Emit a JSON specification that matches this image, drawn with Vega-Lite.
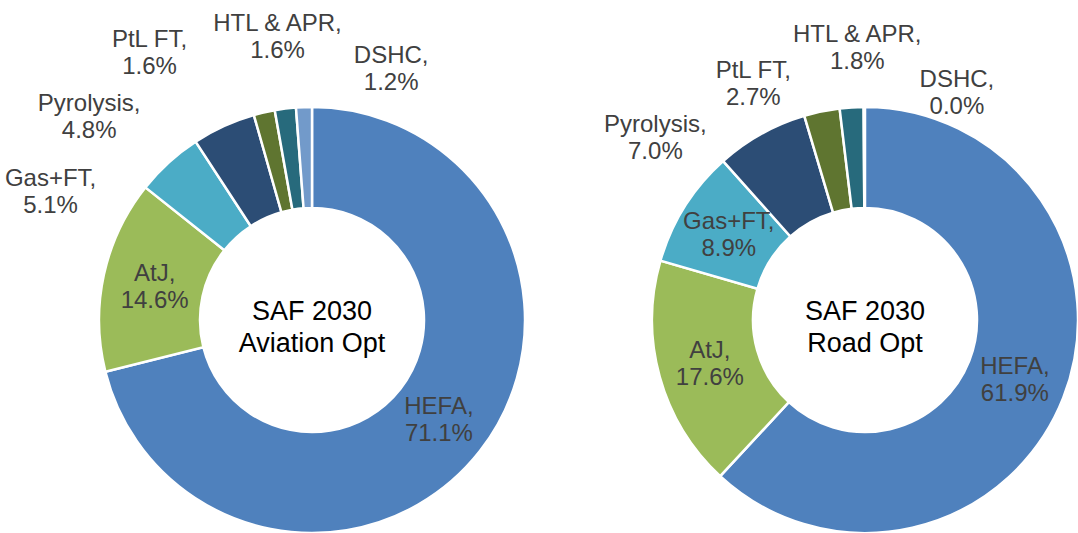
{
  "$schema": "https://vega.github.io/schema/vega-lite/v6.json",
  "width": 1078,
  "height": 533,
  "autosize": {"type": "none"},
  "padding": 0,
  "background": "white",
  "config": {"view": {"stroke": null}},
  "data": {
    "values": [
      {"chart": "Aviation Opt", "source": "HEFA", "share": 71.1},
      {"chart": "Aviation Opt", "source": "AtJ", "share": 14.6},
      {"chart": "Aviation Opt", "source": "Gas+FT", "share": 5.1},
      {"chart": "Aviation Opt", "source": "Pyrolysis", "share": 4.8},
      {"chart": "Aviation Opt", "source": "PtL FT", "share": 1.6},
      {"chart": "Aviation Opt", "source": "HTL & APR", "share": 1.6},
      {"chart": "Aviation Opt", "source": "DSHC", "share": 1.2},
      {"chart": "Road Opt", "source": "HEFA", "share": 61.9},
      {"chart": "Road Opt", "source": "AtJ", "share": 17.6},
      {"chart": "Road Opt", "source": "Gas+FT", "share": 8.9},
      {"chart": "Road Opt", "source": "Pyrolysis", "share": 7.0},
      {"chart": "Road Opt", "source": "PtL FT", "share": 2.7},
      {"chart": "Road Opt", "source": "HTL & APR", "share": 1.8},
      {"chart": "Road Opt", "source": "DSHC", "share": 0.0}
    ]
  },
  "transform": [
    {"stack": "share", "groupby": ["chart"], "sort": [{"field": "share", "order": "descending"}], "as": ["s0", "s1"]},
    {"calculate": "(datum.s0 + datum.s1) / 2", "as": "mid"},
    {"calculate": "datum.source + ',|' + format(datum.share, '.1f') + '%'", "as": "label"}
  ],
  "encoding": {
    "x": {"field": "chart", "type": "nominal", "scale": {"type": "point", "padding": 0.4747, "align": 0.5943}, "axis": null},
    "y": {"datum": "center", "type": "nominal", "scale": {"type": "point", "align": 0.6004}, "axis": null}
  },
  "layer": [
    {
      "mark": {"type": "arc", "outerRadius": 213, "innerRadius": 112, "stroke": "white", "strokeWidth": 2.5},
      "encoding": {
        "theta": {"field": "s0", "type": "quantitative", "stack": null, "scale": {"domain": [0, 100]}},
        "theta2": {"field": "s1"},
        "color": {
          "field": "source",
          "type": "nominal",
          "scale": {
            "domain": ["HEFA", "AtJ", "Gas+FT", "Pyrolysis", "PtL FT", "HTL & APR", "DSHC"],
            "range": ["#4F81BD", "#9BBB59", "#4BACC6", "#2C4D75", "#5F7530", "#276A7C", "#729ACA"]
          },
          "legend": null
        }
      }
    },
    {
      "transform": [{"filter": "datum.share >= 8"}],
      "mark": {"type": "text", "radius": 161, "font": "Liberation Sans", "fontSize": 24, "lineHeight": 27, "color": "#404040", "align": "center", "baseline": "bottom", "lineBreak": "|"},
      "encoding": {
        "theta": {"field": "mid", "type": "quantitative", "stack": null, "scale": {"domain": [0, 100]}},
        "text": {"field": "label"}
      }
    },
    {
      "transform": [{"filter": "datum.chart == 'Aviation Opt' && datum.share < 8"}],
      "mark": {"type": "text", "font": "Liberation Sans", "fontSize": 24, "lineHeight": 27, "color": "#404040", "align": "center", "baseline": "bottom", "lineBreak": "|"},
      "encoding": {
        "theta": {"field": "source", "type": "nominal", "scale": {"type": "point", "padding": 0, "domain": ["Gas+FT", "gap1", "Pyrolysis", "gap2", "PtL FT", "gap3", "gap4", "HTL & APR", "gap5", "gap6", "DSHC"], "range": [5.1714, 6.5869]}},
        "radius": {"field": "source", "type": "nominal", "scale": {"type": "point", "padding": 0, "domain": ["DSHC", "gap1", "gap2", "gap3", "HTL & APR", "Gas+FT", "gap4", "Pyrolysis", "gap5", "PtL FT"], "range": [264.6, 313.2]}},
        "text": {"field": "label"}
      }
    },
    {
      "transform": [{"filter": "datum.chart == 'Road Opt' && datum.share < 8"}],
      "mark": {"type": "text", "font": "Liberation Sans", "fontSize": 24, "lineHeight": 27, "color": "#404040", "align": "center", "baseline": "bottom", "lineBreak": "|"},
      "encoding": {
        "theta": {"field": "source", "type": "nominal", "scale": {"type": "point", "padding": 0, "domain": ["Pyrolysis", "PtL FT", "HTL & APR", "DSHC"], "range": [5.4297, 6.6672]}},
        "radius": {"field": "source", "type": "nominal", "scale": {"type": "point", "padding": 0, "domain": ["DSHC", "gap1", "gap2", "PtL FT", "gap3", "HTL & APR", "Pyrolysis"], "range": [245.4, 278.2]}},
        "text": {"field": "label"}
      }
    },
    {
      "transform": [
        {"aggregate": [{"op": "count", "as": "n"}], "groupby": ["chart"]},
        {"calculate": "'SAF 2030|' + datum.chart", "as": "title"}
      ],
      "mark": {"type": "text", "font": "Liberation Sans", "fontSize": 27, "lineHeight": 32, "color": "black", "align": "center", "baseline": "alphabetic", "lineBreak": "|"},
      "encoding": {"text": {"field": "title"}}
    }
  ],
  "resolve": {"scale": {"theta": "independent", "radius": "independent"}}
}
